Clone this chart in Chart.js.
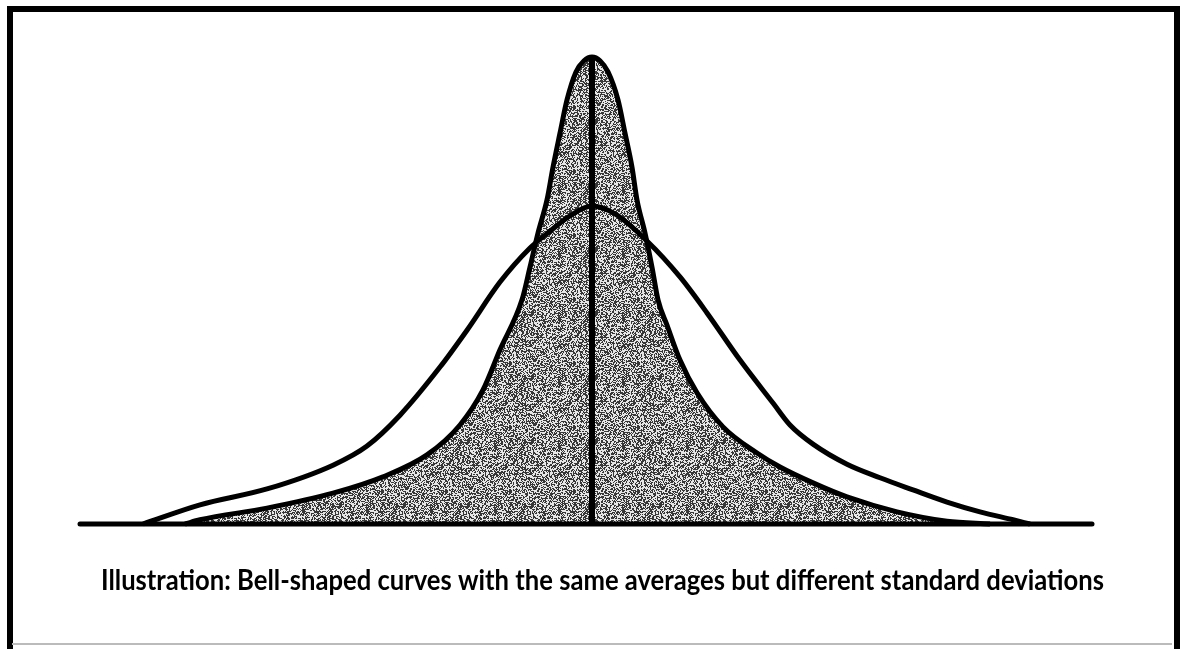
<!DOCTYPE html>
<html>
<head>
<meta charset="utf-8">
<script src="https://cdn.jsdelivr.net/npm/chart.js@4"></script>
<style>
  html, body { margin: 0; padding: 0; background: #fff; }
  #wrap { width: 1184px; height: 649px; }
</style>
</head>
<body>
<div id="wrap"><canvas id="bellChart" width="1184" height="649"></canvas></div>
<script>
// x = distance from the common average, y = relative frequency (narrow peak = 100)
const narrowX = [-4.07, -3.92, -3.25, -2.59, -2.09, -1.65, -1.32, -1.09, -0.92, -0.70, -0.62, -0.54, -0.45, -0.39, -0.32, -0.25, -0.16, -0.08, 0,
                 0.08, 0.16, 0.26, 0.33, 0.40, 0.45, 0.53, 0.60, 0.66, 0.75, 0.88, 1.05, 1.31, 1.65, 1.88, 2.21, 2.55, 3.05, 3.55, 3.98];
const narrowY = [0, 0.9, 3.4, 6.6, 10.1, 14.8, 21.2, 28.7, 37.3, 48.0, 55.0, 62.3, 69.4, 76.4, 83.7, 90.8, 96.8, 99.2, 100,
                 99.2, 96.8, 90.8, 83.7, 76.4, 69.4, 62.3, 55.0, 48.0, 42.6, 35.1, 28.1, 20.8, 15.2, 12.2, 8.8, 5.8, 2.6, 0.6, 0];

const wideX = [-4.49, -3.92, -3.25, -2.59, -2.25, -1.92, -1.52, -1.25, -0.92, -0.62, -0.42, -0.22, 0,
               0.23, 0.55, 0.88, 1.15, 1.48, 1.81, 1.98, 2.21, 2.55, 2.88, 3.21, 3.55, 3.88, 4.21, 4.38];
const wideY = [0, 4.1, 7.5, 12.6, 16.7, 23.3, 33.6, 41.5, 51.8, 59.1, 62.7, 66.0, 68.1,
               66.4, 60.6, 52.9, 45.2, 35.1, 25.9, 21.2, 17.1, 12.8, 9.9, 7.3, 4.7, 2.6, 0.9, 0];

const averageX = 0;
const axisRange = [-5.12, 5.0];
const caption = 'Illustration: Bell-shaped curves with the same averages but different standard deviations';

function toPoints(xs, ys) {
  return xs.map((x, i) => ({ x: x, y: ys[i] }));
}

// speckled grey like a halftone screen
function makeScreen() {
  const c = document.createElement('canvas');
  c.width = 64; c.height = 64;
  const g = c.getContext('2d');
  const img = g.createImageData(64, 64);
  for (let y = 0; y < 64; y++) {
    for (let x = 0; x < 64; x++) {
      let h = (x * 374761393 + y * 668265263) | 0;
      h = Math.imul(h ^ (h >>> 13), 1274126177);
      h = (h ^ (h >>> 16)) >>> 0;
      const v = (h % 100) < 50 ? 55 : 230;
      const k = (y * 64 + x) * 4;
      img.data[k] = img.data[k + 1] = img.data[k + 2] = v;
      img.data[k + 3] = 255;
    }
  }
  g.putImageData(img, 0, 0);
  return document.getElementById('bellChart').getContext('2d').createPattern(c, 'repeat');
}

const framePlugin = {
  id: 'frame',
  beforeDraw(chart) {
    const ctx = chart.ctx;
    ctx.save();
    ctx.fillStyle = '#fff';
    ctx.fillRect(0, 0, chart.width, chart.height);
    ctx.restore();
  },
  afterDraw(chart) {
    const ctx = chart.ctx;
    ctx.save();
    ctx.strokeStyle = '#000';
    ctx.lineWidth = 6;
    ctx.beginPath();
    ctx.moveTo(7, 9); ctx.lineTo(1180, 9);
    ctx.moveTo(10, 6); ctx.lineTo(10, 649);
    ctx.moveTo(1177, 6); ctx.lineTo(1177, 649);
    ctx.stroke();
    ctx.strokeStyle = '#bbb';
    ctx.lineWidth = 2;
    ctx.beginPath();
    ctx.moveTo(12, 644); ctx.lineTo(1172, 644);
    ctx.stroke();

    // caption under the baseline, squeezed to the same run length
    ctx.fillStyle = '#000';
    ctx.font = 'bold 28px Lato, "DejaVu Sans", sans-serif';
    ctx.textBaseline = 'alphabetic';
    const w = ctx.measureText(caption).width;
    const target = 1003;
    ctx.translate(101, 590);
    ctx.scale(target / w, 1);
    ctx.fillText(caption, 0, 0);
    ctx.restore();
  }
};

const ctx = document.getElementById('bellChart').getContext('2d');
new Chart(ctx, {
  type: 'line',
  data: {
    datasets: [
      {
        label: 'baseline',
        data: [{ x: axisRange[0], y: 0 }, { x: axisRange[1], y: 0 }],
        borderColor: '#000',
        borderWidth: 5,
        borderCapStyle: 'round',
        pointRadius: 0,
        tension: 0,
        clip: false,
        order: 1
      },
      {
        label: 'average',
        data: [{ x: averageX, y: 0 }, { x: averageX, y: 100 }],
        borderColor: '#000',
        borderWidth: 6,
        pointRadius: 0,
        tension: 0,
        clip: false,
        order: 2
      },
      {
        label: 'wide',
        data: toPoints(wideX, wideY),
        borderColor: '#000',
        borderWidth: 5,
        pointRadius: 0,
        cubicInterpolationMode: 'monotone',
        fill: false,
        clip: false,
        order: 3
      },
      {
        label: 'narrow',
        data: toPoints(narrowX, narrowY),
        borderColor: '#000',
        borderWidth: 5,
        backgroundColor: makeScreen(),
        pointRadius: 0,
        cubicInterpolationMode: 'monotone',
        fill: 'origin',
        clip: false,
        order: 4
      }
    ]
  },
  options: {
    responsive: false,
    animation: false,
    layout: { padding: { left: 80, right: 92, top: 57, bottom: 125 } },
    scales: {
      x: { type: 'linear', min: axisRange[0], max: axisRange[1], display: false },
      y: { type: 'linear', min: 0, max: 100, display: false }
    },
    plugins: {
      legend: { display: false },
      tooltip: { enabled: false }
    }
  },
  plugins: [framePlugin]
});
</script>
</body>
</html>
